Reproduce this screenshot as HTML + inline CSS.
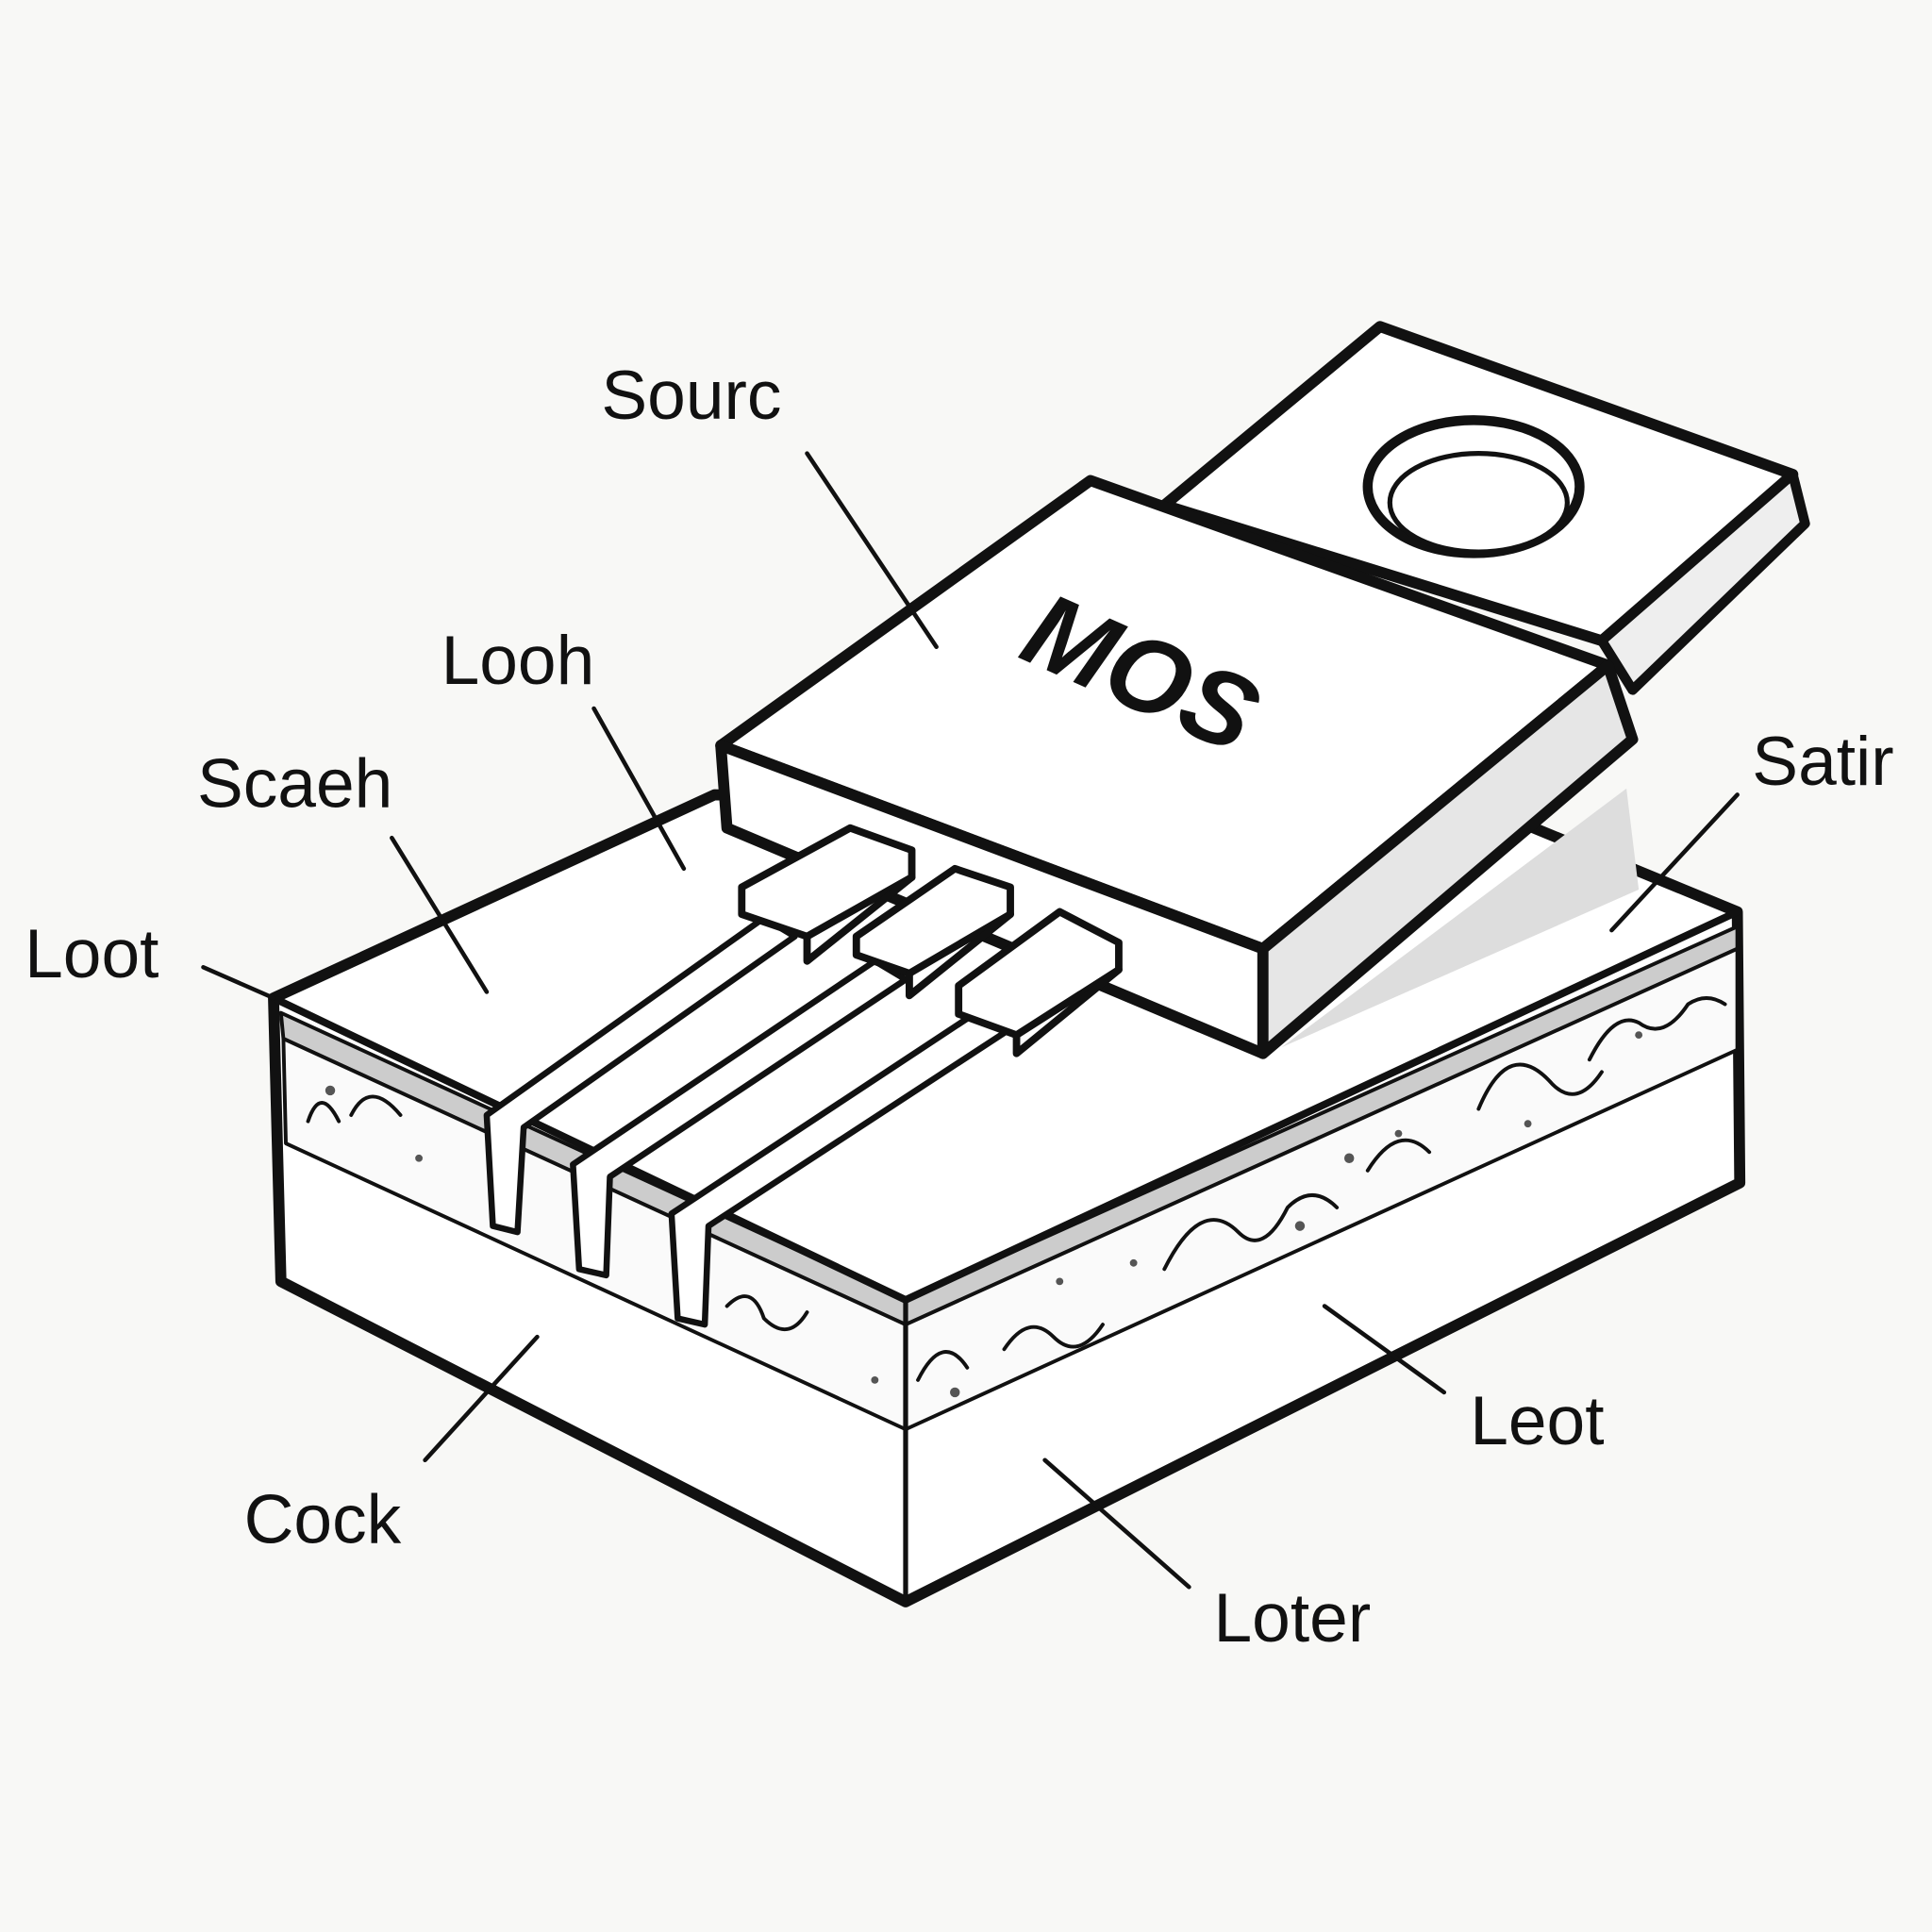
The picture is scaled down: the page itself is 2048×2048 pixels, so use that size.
<!DOCTYPE html>
<html><head><meta charset="utf-8"><style>
html,body{margin:0;padding:0;background:#f8f8f6;}
svg{display:block}
text{font-family:"Liberation Sans","DejaVu Sans",sans-serif;fill:#111}
</style></head><body>
<svg width="2048" height="2048" viewBox="0 0 1568 1568" xmlns="http://www.w3.org/2000/svg">
<rect width="1568" height="1568" fill="#f8f8f6"/>
<g stroke="#111" stroke-linejoin="round" stroke-linecap="round" fill="#fff">
<path d="M222,810 L580,645 L1240,670 L1410,740 L1412,960 L735,1300 L228,1040 Z" stroke-width="9"/>
<path d="M228,822 L735,1055 L735,1075 L230,843 Z" fill="#ccc" stroke-width="3"/>
<path d="M1410,752 L735,1055 L735,1075 L1410,770 Z" fill="#ccc" stroke-width="3"/>
<path d="M230,843 L735,1075 L735,1160 L232,928 Z" fill="#fafafa" stroke-width="3"/>
<path d="M1410,770 L735,1075 L735,1160 L1410,852 Z" fill="#fafafa" stroke-width="3"/>
<path d="M735,1055 L735,1300" stroke-width="4"/>
<path d="M222,810 L735,1055 L1410,740" fill="none" stroke-width="6"/>
<g fill="none" stroke-width="3">
<path d="M250,910 q10,-30 25,0"/><path d="M285,905 q15,-30 40,0"/>
<path d="M590,1060 q20,-20 30,10 q20,20 35,-5"/>
<path d="M745,1120 q20,-40 40,-10"/><path d="M815,1095 q20,-30 40,-10 q20,20 40,-10"/>
<path d="M945,1030 q30,-60 60,-30 q20,20 40,-20 q20,-20 40,0"/>
<path d="M1110,950 q25,-40 50,-15"/><path d="M1200,900 q25,-60 60,-20 q20,20 40,-10"/>
<path d="M1290,860 q20,-40 40,-30 q20,15 40,-15 q15,-10 30,0"/>
</g>
<g fill="#555" stroke="none">
<circle cx="268" cy="885" r="4"/><circle cx="340" cy="940" r="3"/><circle cx="710" cy="1120" r="3"/>
<circle cx="860" cy="1040" r="3"/><circle cx="920" cy="1025" r="3"/><circle cx="1055" cy="995" r="4"/>
<circle cx="1095" cy="940" r="4"/><circle cx="1135" cy="920" r="3"/><circle cx="1240" cy="912" r="3"/>
<circle cx="1330" cy="840" r="3"/><circle cx="775" cy="1130" r="4"/>
</g>
<path d="M1040,850 L1320,640 L1330,722 Z" fill="#ddd" stroke="none"/>
<!-- tab -->
<path d="M945,410 L1120,265 L1455,385 L1300,520 Z" stroke-width="9"/>
<path d="M1455,385 L1465,425 L1325,560 L1300,520 Z" fill="#eee" stroke-width="8"/>
<ellipse cx="1196" cy="395" rx="86" ry="54" stroke-width="8"/>
<ellipse cx="1200" cy="408" rx="72" ry="40" fill="#fff" stroke-width="4"/>
<!-- MOS body -->
<path d="M585,605 L885,390 L1305,540 L1025,770 Z" stroke-width="9"/>
<path d="M585,605 L1025,770 L1025,855 L590,672 Z" stroke-width="9"/>
<path d="M1025,770 L1305,540 L1325,600 L1025,855 Z" fill="#e6e6e6" stroke-width="9"/>
<g stroke-width="5">
<path d="M620,745 L395,905 L400,995 L420,1000 L425,915 L645,760 Z"/>
<path d="M710,780 L465,945 L470,1030 L492,1035 L495,955 L735,795 Z"/>
<path d="M795,820 L545,985 L550,1070 L572,1075 L575,995 L820,835 Z"/>
</g>
<g stroke-width="6">
<path d="M602,720 L690,672 L740,690 L740,712 L655,760 L602,742 Z"/>
<path d="M655,760 L655,780 L740,712" fill="none"/>
<path d="M695,760 L775,705 L820,720 L820,742 L738,790 L695,775 Z"/>
<path d="M738,790 L738,808 L820,742" fill="none"/>
<path d="M778,800 L860,740 L908,765 L908,787 L825,840 L778,823 Z"/>
<path d="M825,840 L825,855 L908,787" fill="none"/>
</g>
<g fill="none" stroke-width="3.5">
<path d="M655,368 L760,525"/><path d="M482,575 L555,705"/><path d="M318,680 L395,805"/>
<path d="M165,785 L222,810"/><path d="M1410,645 L1308,755"/><path d="M1075,1060 L1172,1130"/>
<path d="M345,1185 L436,1085"/><path d="M848,1185 L965,1288"/>
</g>
</g>
<text x="820" y="585" font-size="86" font-weight="bold" font-style="italic" transform="rotate(24 945 570)">MOS</text>
<g font-size="56">
<text x="488" y="340">Sourc</text>
<text x="358" y="555">Looh</text>
<text x="160" y="655">Scaeh</text>
<text x="20" y="793">Loot</text>
<text x="1422" y="637">Satir</text>
<text x="1193" y="1172">Leot</text>
<text x="198" y="1252">Cock</text>
<text x="985" y="1332">Loter</text>
</g>
</svg>
</body></html>
